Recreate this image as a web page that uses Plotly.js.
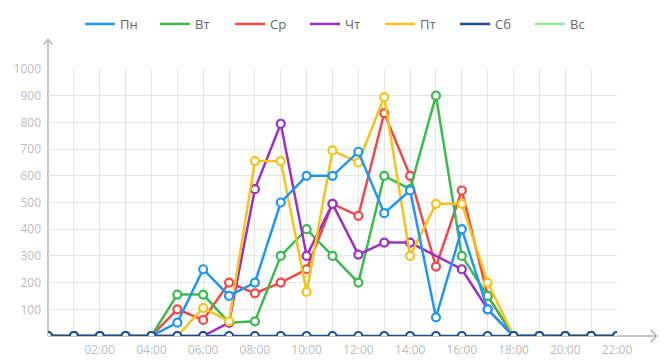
<!DOCTYPE html>
<html>
<head>
<meta charset="utf-8">
<script src="https://cdn.plot.ly/plotly-3.0.1.min.js"></script>
<style>
html,body{margin:0;padding:0;background:#fff;}
#chart{width:665px;height:363px;}
</style>
</head>
<body>
<div id="chart"></div>
<script>
// ---- data ----
var hours = [0,1,2,3,4,5,6,7,8,9,10,11,12,13,14,15,16,17,18,19,20,21,22];
var hourLabels = ['', '', '02:00', '', '04:00', '', '06:00', '', '08:00', '', '10:00', '', '12:00', '', '14:00', '', '16:00', '', '18:00', '', '20:00', '', '22:00'];
var yTickVals = [0,100,200,300,400,500,600,700,800,900,1000];
var yTickText = ['', '100','200','300','400','500','600','700','800','900','1000'];

var seriesNames = ['Пн','Вт','Ср','Чт','Пт','Сб','Вс'];
var mon = [0,0,0,0,0,50,250,150,200,500,600,600,690,460,545,70,400,100,0,0,0,0,0];
var tue = [0,0,0,0,0,155,155,50,55,300,400,300,200,600,550,900,300,150,0,0,0,0,0];
var wed = [0,0,0,0,0,100,60,200,160,200,250,495,450,835,600,260,545,150,0,0,0,0,0];
var thu = [0,0,0,0,0,0,0,50,550,795,300,495,305,350,350,null,250,100,0,0,0,0,0];
var fri = [0,0,0,0,0,0,105,55,655,655,165,695,650,895,300,495,495,200,0,0,0,0,0];
var sat = [0,0,0,0,0,0,0,0,0,0,0,0,0,0,0,0,0,0,0,0,0,0,0];
var sun = [null,null,null,null,null,null,null,null,null,null,null,null,null,null,null,null,null,null,null,null,null,null,null];

var colors = ['#2196f3','#3dba4e','#f44848','#9c30c2','#f7c21a','#1f4f8f','#92e6a0'];
var values = [mon,tue,wed,thu,fri,sat,sun];
// drawing order (later = on top)
var drawOrder = [2,1,3,4,0,5,6];

var traces = drawOrder.map(function(i){
  return {
    x: hours, y: values[i], name: seriesNames[i], type: 'scatter', mode: 'lines+markers',
    connectgaps: true, showlegend: false, hoverinfo: 'skip',
    line: {color: colors[i], width: 2.5},
    marker: {symbol: 'circle', size: 8, color: '#ffffff', line: {color: colors[i], width: 2.2}}
  };
});
// legend entries (line only)
seriesNames.forEach(function(n, i){
  traces.push({x: [null], y: [null], name: n, type: 'scatter', mode: 'lines', showlegend: true,
               legendrank: i+1, hoverinfo: 'skip', line: {color: colors[i], width: 2.5}});
});

// ---- geometry ----
var W = 665, H = 363, ml = 48, mr = 48, mt = 69, mb = 27;
var pw = W - ml - mr, ph = H - mt - mb;
function px(x){ return (x - ml) / pw; }
function py(y){ return (H - mb - y) / ph; }
var axisCol = '#b4b4b4';
var shapes = [
  {type:'line', xref:'paper', yref:'paper', x0:0, x1:0, y0:0, y1:py(39.5), line:{color:axisCol, width:1.5}, layer:'below'},
  {type:'path', xref:'paper', yref:'paper', path:'M'+px(43.8)+','+py(44.5)+' L'+px(48)+','+py(39.5)+' L'+px(52.2)+','+py(44.5), line:{color:axisCol, width:1.5}},
  {type:'line', xref:'paper', yref:'paper', x0:0, x1:px(656.5), y0:0, y1:0, line:{color:axisCol, width:1.5}, layer:'below'},
  {type:'path', xref:'paper', yref:'paper', path:'M'+px(651)+','+py(330)+' L'+px(656.5)+','+py(336)+' L'+px(651)+','+py(342), line:{color:axisCol, width:1.5}}
];

var layout = {
  width: W, height: H,
  margin: {l: ml, r: mr, t: mt, b: mb, pad: 0},
  paper_bgcolor: '#ffffff', plot_bgcolor: '#ffffff',
  font: {family: '"Open Sans", "Noto Sans", sans-serif', color: '#666'},
  showlegend: true,
  legend: {orientation: 'h', xref: 'container', yref: 'container', x: 80/W, xanchor: 'left', y: 1 - 24/H, yanchor: 'middle',
           font: {size: 13, color: '#666'}, entrywidth: 30, entrywidthmode: 'pixels',
           traceorder: 'normal', itemclick: false},
  xaxis: {range: [0, 22], tickvals: hours, ticktext: hourLabels, showgrid: true, gridcolor: '#e6e6e6', gridwidth: 1,
          zeroline: false, showline: false, ticks: '', ticklabelstandoff: 5, tickfont: {size: 12, color: '#bcbcbc'}, fixedrange: true},
  yaxis: {range: [0, 1000], tickvals: yTickVals, ticktext: yTickText, showgrid: true, gridcolor: '#e6e6e6', gridwidth: 1,
          zeroline: false, showline: false, ticks: '', ticklabelstandoff: 6, tickfont: {size: 12, color: '#bcbcbc'}, fixedrange: true},
  shapes: shapes,
  hovermode: false
};

Plotly.newPlot('chart', traces, layout, {displayModeBar: false, staticPlot: true});
</script>
</body>
</html>
